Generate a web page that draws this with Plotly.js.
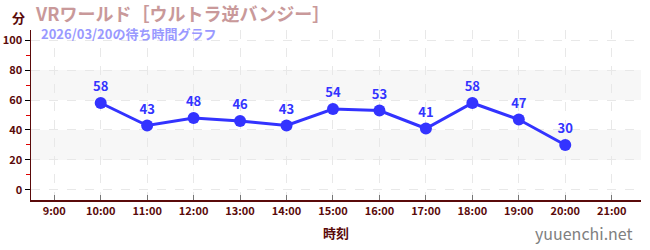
<!DOCTYPE html>
<html><head><meta charset="utf-8">
<script src="https://cdn.plot.ly/plotly-3.0.1.min.js"></script>
<style>html,body{margin:0;padding:0;background:#fff}#chart{width:650px;height:250px}</style>
</head><body><div id="chart"></div>
<script>
const hours = [10, 11, 12, 13, 14, 15, 16, 17, 18, 19, 20];
const waits = [58, 43, 48, 46, 43, 54, 53, 41, 58, 47, 30];
const tickHours = [9, 10, 11, 12, 13, 14, 15, 16, 17, 18, 19, 20, 21];
const tickLabels = ["9:00","10:00","11:00","12:00","13:00","14:00","15:00","16:00","17:00","18:00","19:00","20:00","21:00"];
const yTicks = [0, 20, 40, 60, 80, 100];
const bands = [[20, 40], [60, 80]];
const titleText = "VRワールド［ウルトラ逆バンジー］";
const subText = "2026/03/20の待ち時間グラフ";

const F = '"Noto Sans CJK JP", "Noto Sans", sans-serif';
const axisCol = '#5a0a0a';
const shapes = bands.map(b => ({type:'rect', xref:'paper', yref:'y', x0:0, x1:1, y0:b[0], y1:b[1], fillcolor:'#f7f7f7', line:{width:0}, layer:'below'}));

Plotly.newPlot('chart', [{
  x: hours, y: waits, type:'scatter', mode:'lines+markers+text',
  text: waits.map(String), textposition:'top center',
  textfont:{family:F, size:13, color:'#3333ff', weight:'bold'},
  line:{color:'#3333ff', width:3}, marker:{color:'#3333ff', size:12},
  cliponaxis:false, hoverinfo:'skip'
}], {
  width:650, height:250, margin:{l:31, r:9, t:30, b:50},
  paper_bgcolor:'#fff', plot_bgcolor:'#fff', showlegend:false,
  shapes: shapes,
  xaxis:{range:[8.5, 21.63], tickvals:tickHours, ticktext:tickLabels,
    showgrid:true, gridcolor:'#e8e8e8', griddash:'dash', gridwidth:1,
    showline:true, linecolor:axisCol, linewidth:1.5, zeroline:false,
    ticks:'inside', ticklen:5, tickcolor:'#777', tickfont:{family:F, size:11, color:axisCol, weight:'bold'},
    title:{text:'時刻', font:{family:F, size:13, color:axisCol, weight:'bold'}, standoff:12}, fixedrange:true},
  yaxis:{range:[-6.7, 106.7], tickvals:yTicks,
    showgrid:true, gridcolor:'#e8e8e8', griddash:'dash', gridwidth:1,
    showline:true, linecolor:axisCol, linewidth:1.5, zeroline:false,
    ticks:'outside', ticklen:5, tickcolor:'#000',
    minor:{tickvals:[10,30,50,70,90], ticks:'outside', ticklen:4, tickcolor:'#d00', showgrid:false},
    tickfont:{family:F, size:11, color:axisCol, weight:'bold'}, fixedrange:true},
  annotations:[
    {xref:'paper', yref:'paper', x:0, y:1, yanchor:'middle', xanchor:'right', yshift:13, xshift:-4, text:'分', showarrow:false, font:{family:F, size:13, color:axisCol, weight:'bold'}},
    {xref:'paper', yref:'paper', x:0.0, xanchor:'left', y:1, yanchor:'middle', yshift:17, xshift:2, text:titleText, showarrow:false, font:{family:F, size:18, color:'#c9999a', weight:'bold'}},
    {xref:'paper', yref:'paper', x:0.0, xanchor:'left', y:1, yanchor:'middle', yshift:-3, xshift:8, text:subText, showarrow:false, font:{family:F, size:13, color:'#9999ff', weight:'bold'}},
    {xref:'paper', yref:'paper', x:1, xanchor:'right', y:0, yanchor:'middle', yshift:-33, xshift:-6, text:'yuuenchi.net', showarrow:false, font:{family:F, size:16, color:'#808080'}}
  ]
}, {staticPlot:true});
</script></body></html>
